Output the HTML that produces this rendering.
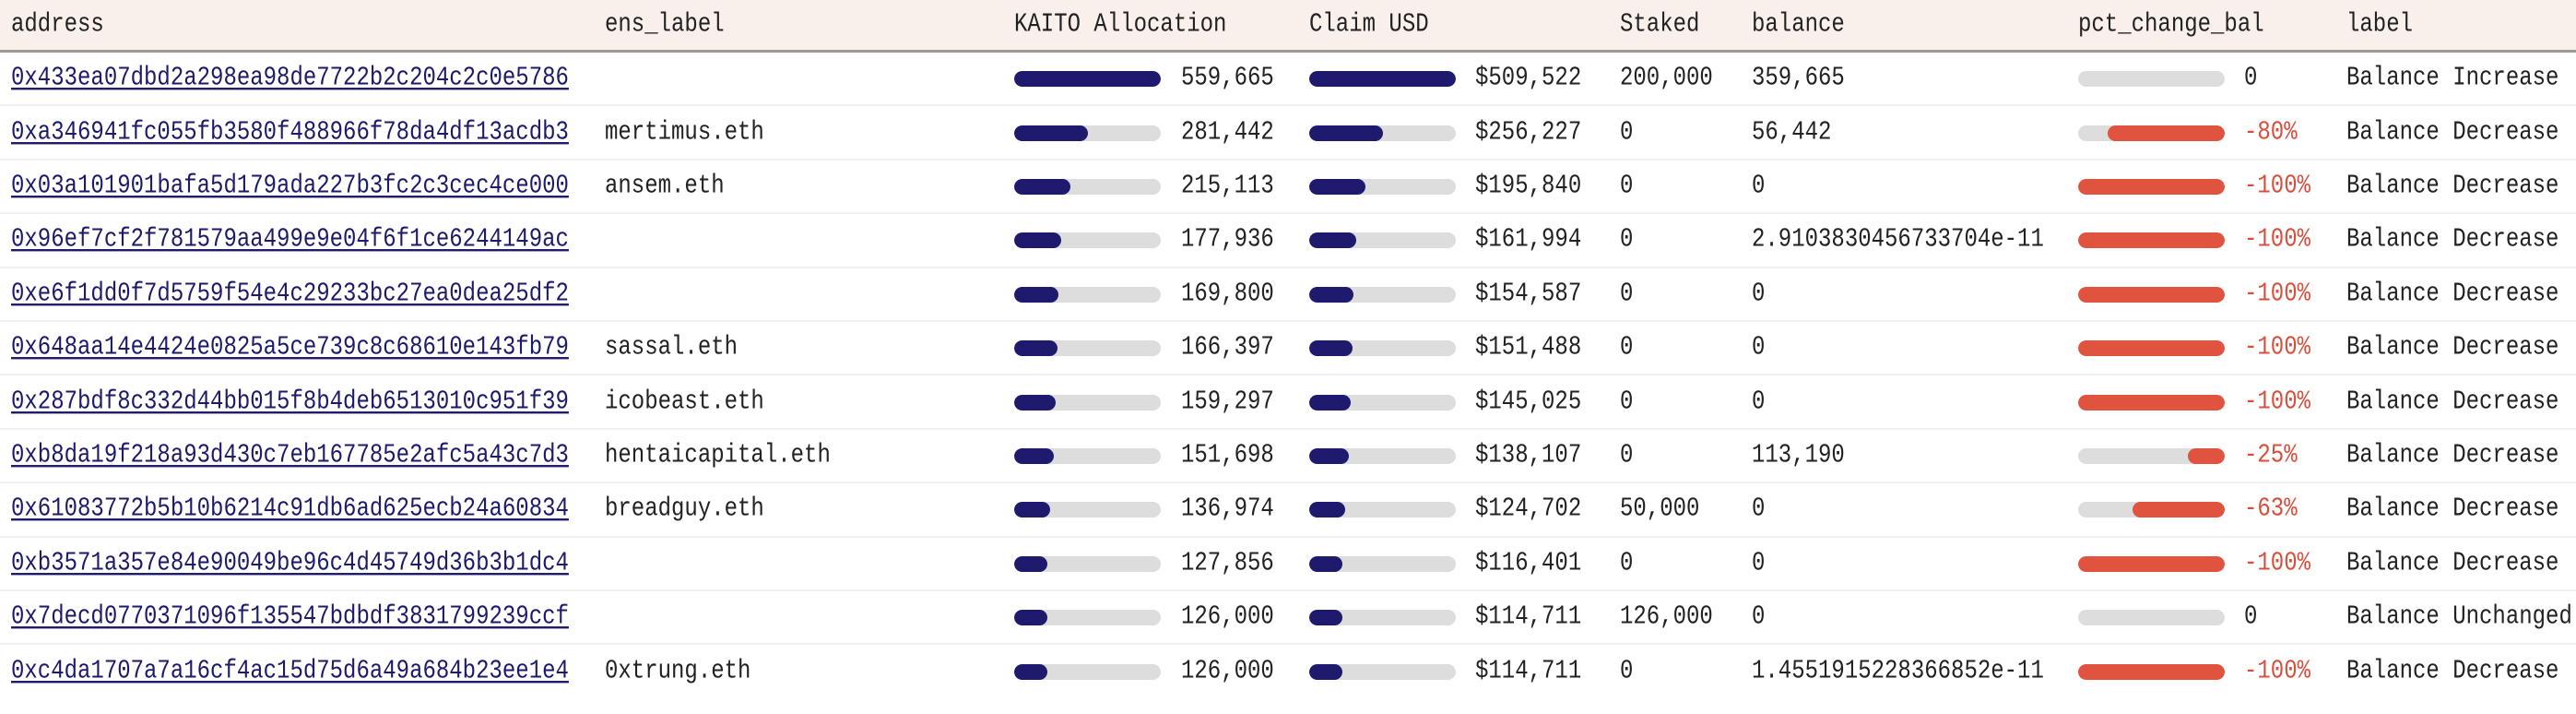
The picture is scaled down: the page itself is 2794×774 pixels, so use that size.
<!DOCTYPE html>
<html><head><meta charset="utf-8"><style>
html,body{margin:0;padding:0;background:#fff;width:2794px;height:774px;overflow:hidden}
body{font-family:"Liberation Mono",monospace;font-size:24px;color:#222}
.hd{position:absolute;left:0;top:0;width:2794px;height:54px;background:#f9efeb;border-bottom:3px solid #9a9a9a}
.r{position:relative;height:58.4px;border-bottom:2px solid #f1f1f1;box-sizing:border-box}
.c{position:absolute;top:50%;transform:translateY(-50%) scaleY(1.18);transform-origin:0 50%;white-space:nowrap}
.hd .c{top:27px}
a{color:#1c1a6b;text-decoration:underline;text-decoration-thickness:2px;text-underline-offset:3px}
.tr{position:absolute;top:50%;margin-top:-8px;height:17px;width:159px;background:#dddddd;border-radius:9px;overflow:hidden}
.f{position:absolute;top:0;height:17px;background:#1e1a6e;border-radius:9px;left:0}
.p{position:absolute;top:0;height:17px;background:#e0533f;border-radius:9px;right:0}
.red{color:#d94f3d}
.a{left:12px}.e{left:656px}.kb{left:1100px}.kv{left:1281px}.cb{left:1420px}.cv{left:1600px}.s{left:1757px}.b{left:1900px}.pb{left:2254px}.pv{left:2434px}.l{left:2545px}
</style></head><body>
<div class="hd">
<div class="c a">address</div><div class="c e">ens_label</div><div class="c kb">KAITO Allocation</div><div class="c cb">Claim USD</div><div class="c s">Staked</div><div class="c b">balance</div><div class="c pb">pct_change_bal</div><div class="c l">label</div>
</div>
<div style="position:absolute;top:57px;left:0;width:2794px">
<div class="r"><div class="c a"><a>0x433ea07dbd2a298ea98de7722b2c204c2c0e5786</a></div><div class="c e"></div><div class="tr kb"><div class="f" style="width:159px"></div></div><div class="c kv">559,665</div><div class="tr cb"><div class="f" style="width:159px"></div></div><div class="c cv">$509,522</div><div class="c s">200,000</div><div class="c b">359,665</div><div class="tr pb"></div><div class="c pv">0</div><div class="c l">Balance Increase</div></div>
<div class="r"><div class="c a"><a>0xa346941fc055fb3580f488966f78da4df13acdb3</a></div><div class="c e">mertimus.eth</div><div class="tr kb"><div class="f" style="width:80px"></div></div><div class="c kv">281,442</div><div class="tr cb"><div class="f" style="width:80px"></div></div><div class="c cv">$256,227</div><div class="c s">0</div><div class="c b">56,442</div><div class="tr pb"><div class="p" style="width:127px"></div></div><div class="c pv red">-80%</div><div class="c l">Balance Decrease</div></div>
<div class="r"><div class="c a"><a>0x03a101901bafa5d179ada227b3fc2c3cec4ce000</a></div><div class="c e">ansem.eth</div><div class="tr kb"><div class="f" style="width:61px"></div></div><div class="c kv">215,113</div><div class="tr cb"><div class="f" style="width:61px"></div></div><div class="c cv">$195,840</div><div class="c s">0</div><div class="c b">0</div><div class="tr pb"><div class="p" style="width:159px"></div></div><div class="c pv red">-100%</div><div class="c l">Balance Decrease</div></div>
<div class="r"><div class="c a"><a>0x96ef7cf2f781579aa499e9e04f6f1ce6244149ac</a></div><div class="c e"></div><div class="tr kb"><div class="f" style="width:51px"></div></div><div class="c kv">177,936</div><div class="tr cb"><div class="f" style="width:51px"></div></div><div class="c cv">$161,994</div><div class="c s">0</div><div class="c b">2.9103830456733704e-11</div><div class="tr pb"><div class="p" style="width:159px"></div></div><div class="c pv red">-100%</div><div class="c l">Balance Decrease</div></div>
<div class="r"><div class="c a"><a>0xe6f1dd0f7d5759f54e4c29233bc27ea0dea25df2</a></div><div class="c e"></div><div class="tr kb"><div class="f" style="width:48px"></div></div><div class="c kv">169,800</div><div class="tr cb"><div class="f" style="width:48px"></div></div><div class="c cv">$154,587</div><div class="c s">0</div><div class="c b">0</div><div class="tr pb"><div class="p" style="width:159px"></div></div><div class="c pv red">-100%</div><div class="c l">Balance Decrease</div></div>
<div class="r"><div class="c a"><a>0x648aa14e4424e0825a5ce739c8c68610e143fb79</a></div><div class="c e">sassal.eth</div><div class="tr kb"><div class="f" style="width:47px"></div></div><div class="c kv">166,397</div><div class="tr cb"><div class="f" style="width:47px"></div></div><div class="c cv">$151,488</div><div class="c s">0</div><div class="c b">0</div><div class="tr pb"><div class="p" style="width:159px"></div></div><div class="c pv red">-100%</div><div class="c l">Balance Decrease</div></div>
<div class="r"><div class="c a"><a>0x287bdf8c332d44bb015f8b4deb6513010c951f39</a></div><div class="c e">icobeast.eth</div><div class="tr kb"><div class="f" style="width:45px"></div></div><div class="c kv">159,297</div><div class="tr cb"><div class="f" style="width:45px"></div></div><div class="c cv">$145,025</div><div class="c s">0</div><div class="c b">0</div><div class="tr pb"><div class="p" style="width:159px"></div></div><div class="c pv red">-100%</div><div class="c l">Balance Decrease</div></div>
<div class="r"><div class="c a"><a>0xb8da19f218a93d430c7eb167785e2afc5a43c7d3</a></div><div class="c e">hentaicapital.eth</div><div class="tr kb"><div class="f" style="width:43px"></div></div><div class="c kv">151,698</div><div class="tr cb"><div class="f" style="width:43px"></div></div><div class="c cv">$138,107</div><div class="c s">0</div><div class="c b">113,190</div><div class="tr pb"><div class="p" style="width:40px"></div></div><div class="c pv red">-25%</div><div class="c l">Balance Decrease</div></div>
<div class="r"><div class="c a"><a>0x61083772b5b10b6214c91db6ad625ecb24a60834</a></div><div class="c e">breadguy.eth</div><div class="tr kb"><div class="f" style="width:39px"></div></div><div class="c kv">136,974</div><div class="tr cb"><div class="f" style="width:39px"></div></div><div class="c cv">$124,702</div><div class="c s">50,000</div><div class="c b">0</div><div class="tr pb"><div class="p" style="width:100px"></div></div><div class="c pv red">-63%</div><div class="c l">Balance Decrease</div></div>
<div class="r"><div class="c a"><a>0xb3571a357e84e90049be96c4d45749d36b3b1dc4</a></div><div class="c e"></div><div class="tr kb"><div class="f" style="width:36px"></div></div><div class="c kv">127,856</div><div class="tr cb"><div class="f" style="width:36px"></div></div><div class="c cv">$116,401</div><div class="c s">0</div><div class="c b">0</div><div class="tr pb"><div class="p" style="width:159px"></div></div><div class="c pv red">-100%</div><div class="c l">Balance Decrease</div></div>
<div class="r"><div class="c a"><a>0x7decd0770371096f135547bdbdf3831799239ccf</a></div><div class="c e"></div><div class="tr kb"><div class="f" style="width:36px"></div></div><div class="c kv">126,000</div><div class="tr cb"><div class="f" style="width:36px"></div></div><div class="c cv">$114,711</div><div class="c s">126,000</div><div class="c b">0</div><div class="tr pb"></div><div class="c pv">0</div><div class="c l">Balance Unchanged</div></div>
<div class="r" style="border-bottom:none"><div class="c a"><a>0xc4da1707a7a16cf4ac15d75d6a49a684b23ee1e4</a></div><div class="c e">0xtrung.eth</div><div class="tr kb"><div class="f" style="width:36px"></div></div><div class="c kv">126,000</div><div class="tr cb"><div class="f" style="width:36px"></div></div><div class="c cv">$114,711</div><div class="c s">0</div><div class="c b">1.4551915228366852e-11</div><div class="tr pb"><div class="p" style="width:159px"></div></div><div class="c pv red">-100%</div><div class="c l">Balance Decrease</div></div>
</div>
</body></html>
